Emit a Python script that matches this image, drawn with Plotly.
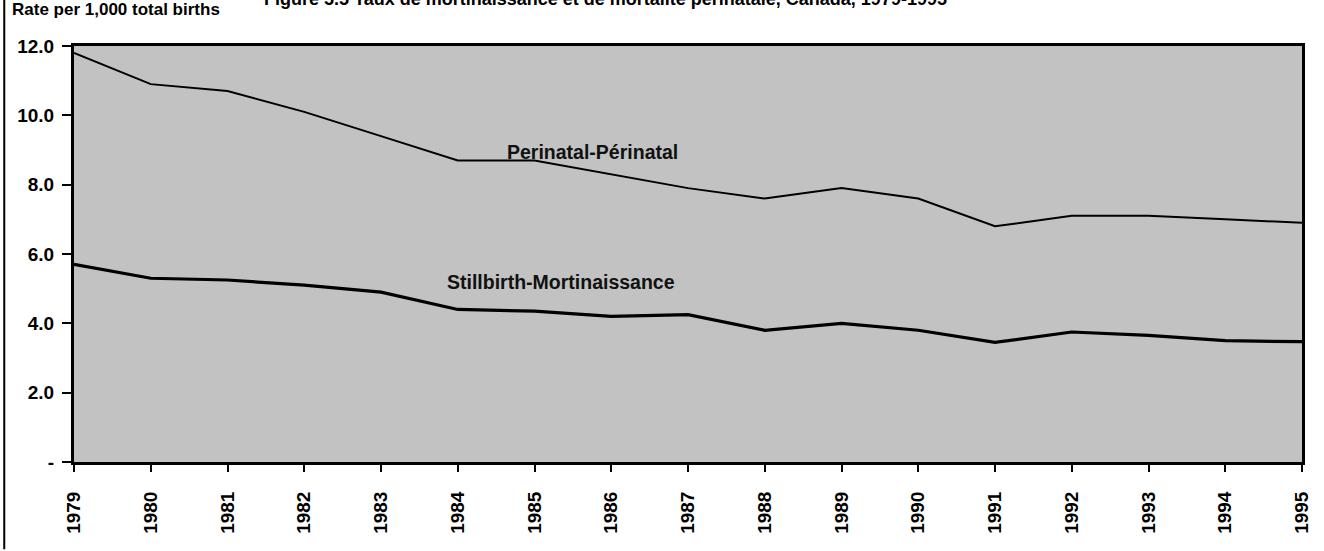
import plotly.graph_objects as go

# Annual rates per 1,000 total births, Canada
years = [1979, 1980, 1981, 1982, 1983, 1984, 1985, 1986, 1987,
         1988, 1989, 1990, 1991, 1992, 1993, 1994, 1995]
perinatal = [11.8, 10.9, 10.7, 10.1, 9.4, 8.7, 8.7, 8.3, 7.9,
             7.6, 7.9, 7.6, 6.8, 7.1, 7.1, 7.0, 6.9]
stillbirth = [5.7, 5.3, 5.25, 5.1, 4.9, 4.4, 4.35, 4.2, 4.25,
              3.8, 4.0, 3.8, 3.45, 3.75, 3.65, 3.5, 3.47]

y_tickvals = [0, 2, 4, 6, 8, 10, 12]
y_ticktext = ["-", "2.0", "4.0", "6.0", "8.0", "10.0", "12.0"]

title_text = "Figure 5.5 Taux de mortinaissance et de mortalité périnatale, Canada, 1979-1995"
y_axis_label = "Rate per 1,000 total births"
perinatal_label = "Perinatal-Périnatal"
stillbirth_label = "Stillbirth-Mortinaissance"

FONT = "Liberation Sans, Arial, Helvetica, sans-serif"

fig = go.Figure()
fig.add_trace(go.Scatter(x=years, y=perinatal, mode="lines",
                         line=dict(color="black", width=2), name=perinatal_label,
                         showlegend=False))
fig.add_trace(go.Scatter(x=years, y=stillbirth, mode="lines",
                         line=dict(color="black", width=3.2), name=stillbirth_label,
                         showlegend=False))

# series labels placed inside the plot
fig.add_annotation(x=1985.76, y=8.95, text="<b>" + perinatal_label + "</b>",
                   showarrow=False, font=dict(family=FONT, size=19.5, color="#111"))
fig.add_annotation(x=1985.35, y=5.2, text="<b>" + stillbirth_label + "</b>",
                   showarrow=False, font=dict(family=FONT, size=19.5, color="#111"))

# axis caption and heading above the frame
fig.add_annotation(xref="paper", yref="paper", x=-0.052, y=1.088,
                   xanchor="left", yanchor="middle",
                   text="<b>" + y_axis_label + "</b>", showarrow=False,
                   font=dict(family=FONT, size=17, color="black"))
fig.add_annotation(xref="paper", yref="paper", x=0.433, y=1.113,
                   xanchor="center", yanchor="middle",
                   text="<b>" + title_text + "</b>", showarrow=False,
                   font=dict(family=FONT, size=18, color="black"))

# page frame line at the left edge
fig.add_shape(type="line", xref="paper", yref="paper",
              x0=-0.0568, x1=-0.0568, y0=-0.21, y1=1.12,
              line=dict(color="black", width=2))

fig.update_xaxes(range=[1979, 1995], tickmode="array", tickvals=years,
                 ticktext=["<b>" + str(y) + "</b>" for y in years], tickangle=-90,
                 showline=True, linecolor="black", linewidth=3, mirror=True,
                 ticks="outside", ticklen=7, tickwidth=2, tickcolor="black",
                 ticklabelstandoff=12,
                 showgrid=False, zeroline=False,
                 tickfont=dict(family=FONT, size=19, color="black"))
fig.update_yaxes(range=[0, 12], tickmode="array", tickvals=y_tickvals,
                 ticktext=["<b>" + t + "</b>" for t in y_ticktext],
                 showline=True, linecolor="black", linewidth=3, mirror=True,
                 ticks="outside", ticklen=9, tickwidth=2, tickcolor="black",
                 ticklabelstandoff=4,
                 showgrid=False, zeroline=False,
                 tickfont=dict(family=FONT, size=19, color="black"))

fig.update_layout(width=1324, height=551,
                  margin=dict(l=74, r=17, t=46, b=89),
                  plot_bgcolor="#c2c2c2", paper_bgcolor="white",
                  showlegend=False)

fig.write_html("out.html")
